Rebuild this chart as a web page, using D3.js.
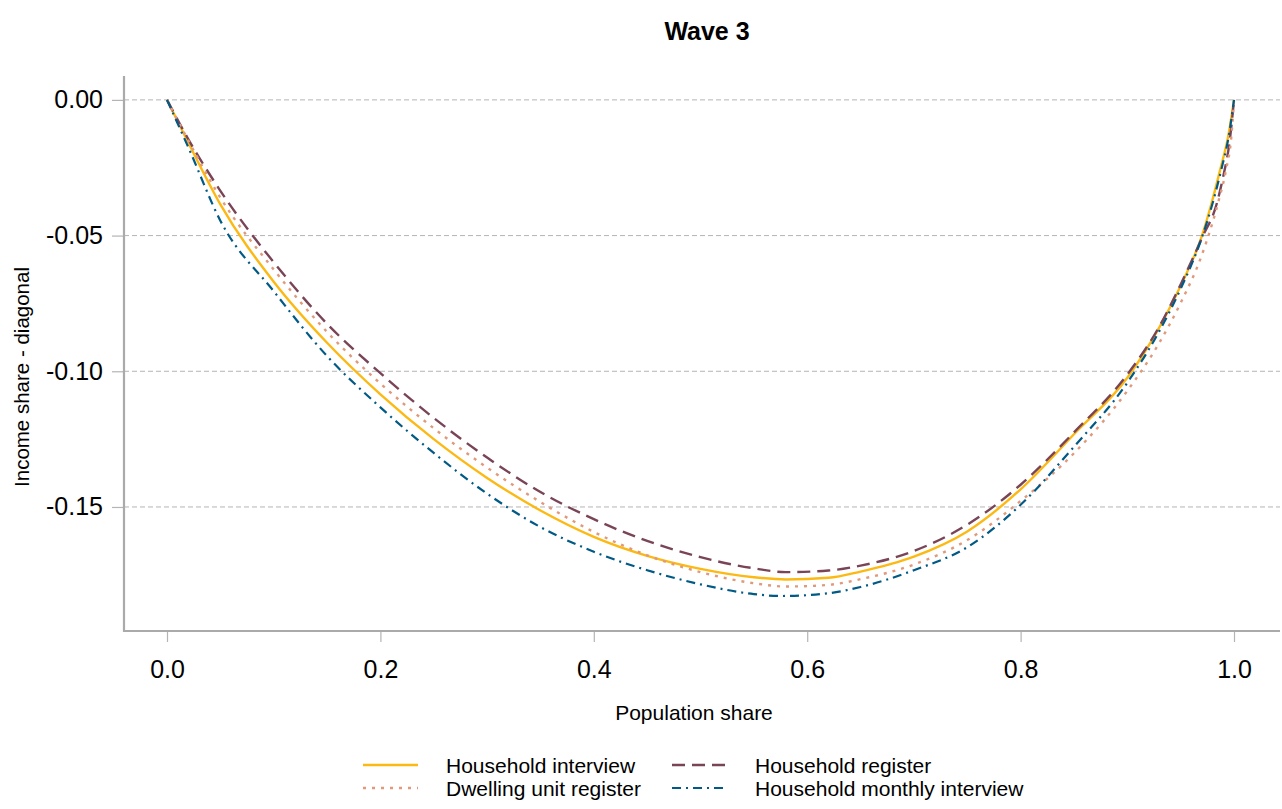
<!DOCTYPE html>
<html><head><meta charset="utf-8">
<script src="https://cdn.jsdelivr.net/npm/d3@7"></script>
<style>body{margin:0;background:#fff}svg{display:block;font-family:"Liberation Sans",Arial,sans-serif}</style>
</head><body><svg id="c" width="1282" height="809"></svg>
<script>
const title = "Wave 3";
const xLabel = "Population share";
const yLabel = "Income share - diagonal";
const xTicks = [0, 0.2, 0.4, 0.6, 0.8, 1.0];
const yTicks = [0, -0.05, -0.10, -0.15];
const seriesNames = ["Household interview", "Household register", "Dwelling unit register", "Household monthly interview"];

const pInterview = [0, 0.02, 0.05, 0.1, 0.15, 0.2, 0.25, 0.3, 0.35, 0.4, 0.45, 0.5, 0.55, 0.58, 0.62, 0.65, 0.7, 0.75, 0.8, 0.85, 0.9, 0.93, 0.95, 0.97, 0.979, 0.987, 0.9945, 1];
const vInterview = [0, -0.0158, -0.0385, -0.067, -0.0895, -0.1085, -0.125, -0.1393, -0.1513, -0.161, -0.168, -0.1728, -0.1759, -0.1767, -0.1761, -0.1738, -0.1683, -0.159, -0.1435, -0.1232, -0.1024, -0.0838, -0.0685, -0.050, -0.038, -0.0258, -0.0135, 0];

const pRegister = [0, 0.02, 0.05, 0.1, 0.15, 0.2, 0.25, 0.3, 0.35, 0.4, 0.45, 0.5, 0.55, 0.58, 0.62, 0.65, 0.7, 0.75, 0.8, 0.85, 0.9, 0.93, 0.95, 0.97, 0.984, 0.99, 0.996, 1];
const vRegister = [0, -0.0145, -0.0335, -0.0598, -0.0825, -0.1007, -0.1172, -0.1318, -0.1445, -0.1545, -0.1625, -0.1685, -0.1726, -0.1740, -0.1734, -0.1716, -0.1662, -0.1565, -0.1418, -0.1225, -0.1012, -0.0835, -0.068, -0.0508, -0.038, -0.028, -0.015, 0];

const pDwelling = [0, 0.02, 0.05, 0.1, 0.15, 0.2, 0.25, 0.3, 0.35, 0.4, 0.45, 0.5, 0.55, 0.58, 0.62, 0.65, 0.7, 0.75, 0.8, 0.85, 0.9, 0.93, 0.95, 0.97, 0.985, 0.9925, 0.9975, 1];
const vDwelling = [0, -0.015, -0.036, -0.0625, -0.0855, -0.1045, -0.121, -0.1355, -0.1482, -0.1592, -0.1678, -0.174, -0.1781, -0.1793, -0.1787, -0.1766, -0.1712, -0.1622, -0.1478, -0.1302, -0.1072, -0.0895, -0.0748, -0.057, -0.038, -0.0258, -0.0135, 0];

const pMonthly = [0, 0.02, 0.05, 0.1, 0.15, 0.2, 0.25, 0.3, 0.35, 0.4, 0.45, 0.5, 0.55, 0.575, 0.62, 0.65, 0.7, 0.75, 0.8, 0.85, 0.9, 0.93, 0.95, 0.97, 0.98, 0.988, 0.995, 1];
const vMonthly = [0, -0.0175, -0.0445, -0.0705, -0.0944, -0.1133, -0.1301, -0.1451, -0.1574, -0.1665, -0.1733, -0.1785, -0.1821, -0.1828, -0.1818, -0.1795, -0.1733, -0.1648, -0.1492, -0.1278, -0.1042, -0.0852, -0.0696, -0.0506, -0.038, -0.0258, -0.0135, 0];

const seriesP = [pInterview, pRegister, pDwelling, pMonthly];
const seriesV = [vInterview, vRegister, vDwelling, vMonthly];
const colors = ["#FDB913", "#7A4457", "#E09A7B", "#005A85"];
const dashes = [null, "13,7", "3,6", "9,5,2,5"];
const widths = [2.4, 2.4, 2.4, 2.2];

const svg = d3.select("#c");
const L = 124, R = 1280, T = 76, B = 631;
const x = d3.scaleLinear().domain([-0.0403, 1.0431]).range([L, R]);
const y = d3.scaleLinear().domain([0.0088, -0.1957]).range([T, B]);
const fmtY = d => d3.format(".2f")(d).replace("\u2212", "-");

// grid
svg.append("g").selectAll("line").data(yTicks).join("line")
  .attr("x1", L).attr("x2", R).attr("y1", d => y(d)).attr("y2", d => y(d))
  .attr("stroke", "#b4b4b4").attr("stroke-width", 1).attr("stroke-dasharray", "5,3");

// axes
const yAxis = d3.axisLeft(y).tickValues(yTicks).tickFormat(fmtY).tickSize(12).tickPadding(9);
const gy = svg.append("g").attr("transform", `translate(${L},0)`).call(yAxis);
const xAxis = d3.axisBottom(x).tickValues(xTicks).tickFormat(d3.format(".1f")).tickSize(11).tickPadding(18);
const gx = svg.append("g").attr("transform", `translate(0,${B})`).call(xAxis);
[gx, gy].forEach(g => {
  g.select(".domain").remove();
  g.attr("font-size", 25).attr("font-family", "Liberation Sans, Arial, sans-serif");
  g.selectAll(".tick line").attr("stroke", "#b4b4b4").attr("stroke-width", 1.2);
  g.selectAll(".tick text").attr("fill", "#000");
});
svg.append("line").attr("x1", L).attr("x2", L).attr("y1", T).attr("y2", B + 1).attr("stroke", "#aaaaaa").attr("stroke-width", 2.2);
svg.append("line").attr("x1", L - 1).attr("x2", R).attr("y1", B).attr("y2", B).attr("stroke", "#aaaaaa").attr("stroke-width", 2.2);

// lines
const line = d3.line().x(d => x(d[0])).y(d => y(d[1])).curve(d3.curveMonotoneX);
seriesP.forEach((ps, i) => {
  const pts = ps.map((p, j) => [p, seriesV[i][j]]);
  svg.append("path").datum(pts).attr("d", line).attr("fill", "none")
    .attr("stroke", colors[i]).attr("stroke-width", widths[i])
    .attr("stroke-dasharray", dashes[i]);
});

// titles
svg.append("text").attr("x", 707).attr("y", 40).attr("text-anchor", "middle")
  .attr("font-size", 25).attr("font-weight", "bold").text(title);
svg.append("text").attr("x", 694).attr("y", 720).attr("text-anchor", "middle")
  .attr("font-size", 21).text(xLabel);
svg.append("text").attr("transform", "translate(29,377) rotate(-90)").attr("text-anchor", "middle")
  .attr("font-size", 20.5).text(yLabel);

// legend
const legPos = [[363, 765], [672, 765], [363, 788], [672, 788]];
seriesNames.forEach((n, i) => {
  const [lx, ly] = legPos[i];
  svg.append("line").attr("x1", lx).attr("x2", lx + 55).attr("y1", ly).attr("y2", ly)
    .attr("stroke", colors[i]).attr("stroke-width", widths[i]).attr("stroke-dasharray", dashes[i]);
  svg.append("text").attr("x", lx + 83).attr("y", ly + 8).attr("font-size", 21).text(n);
});
</script></body></html>
